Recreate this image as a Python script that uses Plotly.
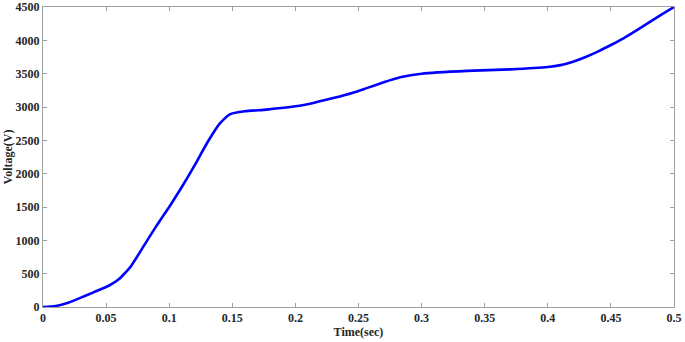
import plotly.graph_objects as go

time_s = [0, 0.01, 0.02, 0.03, 0.04, 0.05, 0.055, 0.06, 0.065, 0.07, 0.08, 0.09, 0.1, 0.11, 0.12, 0.13, 0.14,
          0.148, 0.16, 0.177, 0.2, 0.215, 0.23, 0.245, 0.2565, 0.27, 0.283, 0.3, 0.336, 0.37, 0.4, 0.41, 0.42,
          0.43, 0.44, 0.45, 0.46, 0.47, 0.48, 0.49, 0.5]
voltage = [0, 15, 65, 140, 220, 300, 350, 415, 510, 620, 920, 1220, 1500, 1800, 2120, 2460, 2750,
           2890, 2935, 2961, 3010, 3065, 3134, 3210, 3283, 3370, 3445, 3500, 3542, 3565, 3600, 3628, 3680,
           3750, 3835, 3930, 4030, 4145, 4265, 4385, 4500]

x_ticks = [0, 0.05, 0.1, 0.15, 0.2, 0.25, 0.3, 0.35, 0.4, 0.45, 0.5]
x_labels = ["0", "0.05", "0.1", "0.15", "0.2", "0.25", "0.3", "0.35", "0.4", "0.45", "0.5"]
y_ticks = [0, 500, 1000, 1500, 2000, 2500, 3000, 3500, 4000, 4500]
y_labels = ["0", "500", "1000", "1500", "2000", "2500", "3000", "3500", "4000", "4500"]

fam = "Liberation Serif, Times New Roman, serif"

fig = go.Figure(go.Scatter(x=time_s, y=voltage, mode="lines", cliponaxis=False,
                           line=dict(color="#0000ff", width=2.6, shape="spline", smoothing=0.5)))

axis_common = dict(showgrid=False, zeroline=False, showline=True, linecolor="#a0a0a0",
                   linewidth=1, mirror="ticks", ticks="inside", ticklen=4, tickcolor="#a0a0a0",
                   automargin=False,
                   tickfont=dict(family=fam, size=12, color="#262626", weight="bold"))

fig.update_layout(
    width=685, height=342,
    margin=dict(l=43, r=11, t=7, b=35),
    paper_bgcolor="white", plot_bgcolor="white",
    showlegend=False,
    xaxis=dict(range=[0, 0.5], tickvals=x_ticks, ticktext=x_labels,
               title=dict(text="<b>Time(sec)</b>", font=dict(family=fam, size=12, color="#262626"), standoff=0),
               **axis_common),
    yaxis=dict(range=[0, 4500], tickvals=y_ticks, ticktext=y_labels,
               title=dict(text="<b>Voltage(V)</b>", font=dict(family=fam, size=12, color="#262626"), standoff=0),
               **axis_common),
)

fig.write_html("out.html", config={"displayModeBar": False},
               post_script="document.body.style.margin='0';document.body.style.overflow='hidden';")
